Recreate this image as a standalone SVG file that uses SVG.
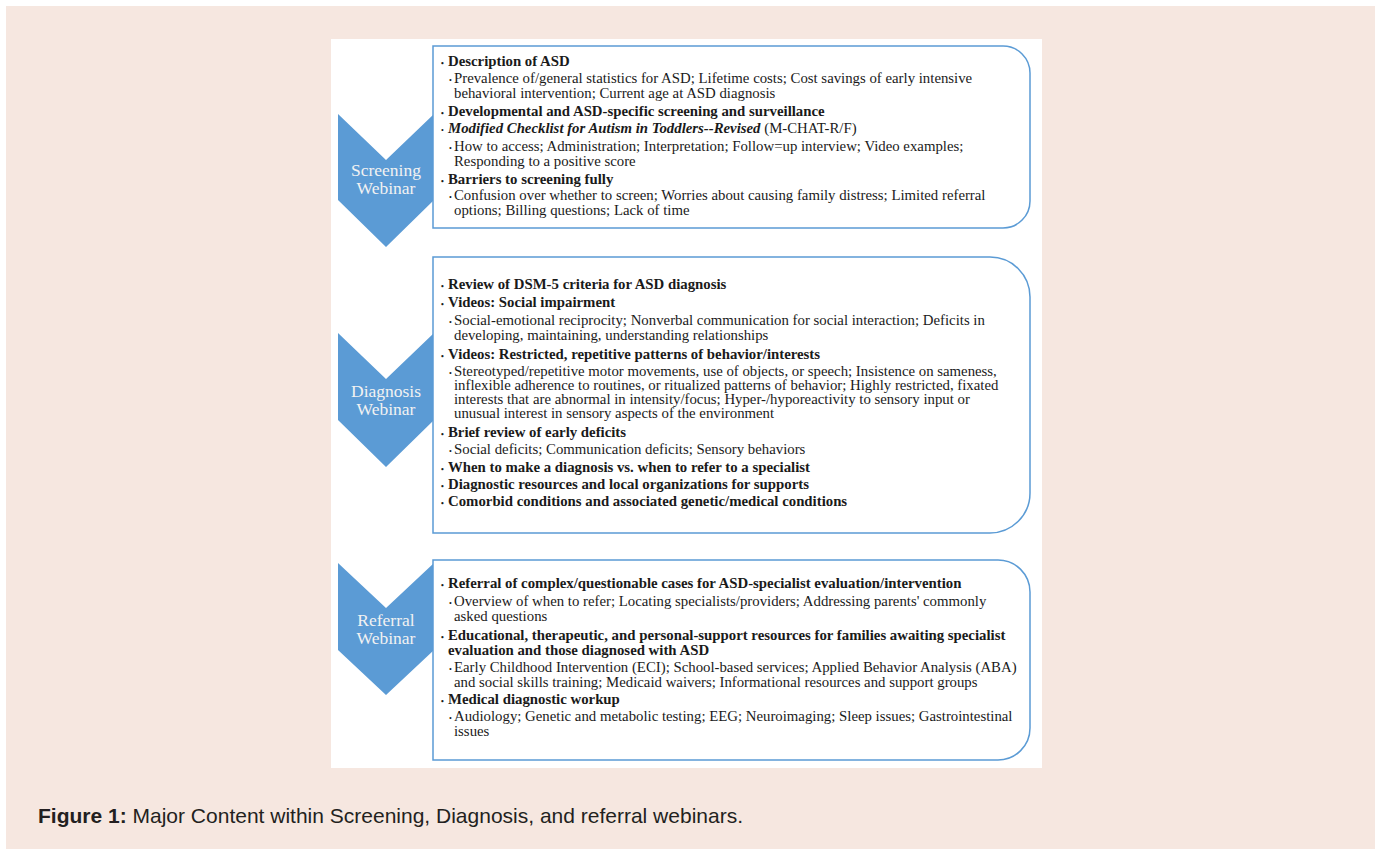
<svg xmlns="http://www.w3.org/2000/svg" width="1375" height="849" viewBox="0 0 1375 849">
  <style>
    .chev { fill: #5b9bd5; }
    .chev-label { font-family: "Liberation Serif", "Times New Roman", serif; font-size: 17.5px; fill: #f2f2f2; text-anchor: middle; }
    .box { fill: #ffffff; stroke: #5b9bd5; stroke-width: 1.5; }
    .t { font-family: "Liberation Serif", "Times New Roman", serif; font-size: 14.8px; fill: #1a1a1a; }
    .h { font-weight: bold; }
    .dot { font-size: 8px; }
    .cap { font-family: "Liberation Sans", Arial, sans-serif; font-size: 21px; fill: #231f20; }
  </style>

  <!-- page background and figure panel -->
  <rect x="0" y="0" width="1375" height="849" fill="#ffffff"/>
  <rect x="6" y="6" width="1369" height="843" fill="#f6e7e0"/>
  <rect x="331" y="39" width="711" height="729" fill="#ffffff"/>

  <!-- Screening webinar -->
  <g id="screening">
    <path class="chev" d="M338,114 L386,160 L434,114 L434,200 L386,247 L338,200 Z"/>
    <text class="chev-label" x="386" y="176">Screening</text>
    <text class="chev-label" x="386" y="194">Webinar</text>
    <path class="box" d="M433,46 H1003 A27,27 0 0 1 1030,73 V201 A27,27 0 0 1 1003,228 H433 Z"/>
    <text class="t h" y="66"><tspan class="dot" x="441">•</tspan><tspan x="448">Description of ASD</tspan></text>
    <text class="t" y="83"><tspan class="dot" x="449">•</tspan><tspan x="454">Prevalence of/general statistics for ASD; Lifetime costs; Cost savings of early intensive</tspan></text>
    <text class="t" x="454" y="98">behavioral intervention; Current age at ASD diagnosis</text>
    <text class="t h" y="116"><tspan class="dot" x="441">•</tspan><tspan x="448">Developmental and ASD-specific screening and surveillance</tspan></text>
    <text class="t" y="133"><tspan class="dot" x="441">•</tspan><tspan x="448" class="h" font-style="italic">Modified Checklist for Autism in Toddlers--Revised</tspan><tspan> (M-CHAT-R/F)</tspan></text>
    <text class="t" y="151"><tspan class="dot" x="449">•</tspan><tspan x="454">How to access; Administration; Interpretation; Follow=up interview; Video examples;</tspan></text>
    <text class="t" x="454" y="166">Responding to a positive score</text>
    <text class="t h" y="184"><tspan class="dot" x="441">•</tspan><tspan x="448">Barriers to screening fully</tspan></text>
    <text class="t" y="200"><tspan class="dot" x="449">•</tspan><tspan x="454">Confusion over whether to screen; Worries about causing family distress; Limited referral</tspan></text>
    <text class="t" x="454" y="215">options; Billing questions; Lack of time</text>
  </g>

  <!-- Diagnosis webinar -->
  <g id="diagnosis">
    <path class="chev" d="M338,333 L386,379 L434,333 L434,420 L386,467 L338,420 Z"/>
    <text class="chev-label" x="386" y="397">Diagnosis</text>
    <text class="chev-label" x="386" y="415">Webinar</text>
    <path class="box" d="M433,257 H990 A40,40 0 0 1 1030,297 V493 A40,40 0 0 1 990,533 H433 Z"/>
    <text class="t h" y="289"><tspan class="dot" x="441">•</tspan><tspan x="448">Review of DSM-5 criteria for ASD diagnosis</tspan></text>
    <text class="t h" y="307"><tspan class="dot" x="441">•</tspan><tspan x="448">Videos: Social impairment</tspan></text>
    <text class="t" y="325"><tspan class="dot" x="449">•</tspan><tspan x="454">Social-emotional reciprocity; Nonverbal communication for social interaction; Deficits in</tspan></text>
    <text class="t" x="454" y="340">developing, maintaining, understanding relationships</text>
    <text class="t h" y="359"><tspan class="dot" x="441">•</tspan><tspan x="448">Videos: Restricted, repetitive patterns of behavior/interests</tspan></text>
    <text class="t" y="376"><tspan class="dot" x="449">•</tspan><tspan x="454">Stereotyped/repetitive motor movements, use of objects, or speech; Insistence on sameness,</tspan></text>
    <text class="t" x="454" y="390">inflexible adherence to routines, or ritualized patterns of behavior; Highly restricted, fixated</text>
    <text class="t" x="454" y="404">interests that are abnormal in intensity/focus; Hyper-/hyporeactivity to sensory input or</text>
    <text class="t" x="454" y="418">unusual interest in sensory aspects of the environment</text>
    <text class="t h" y="437"><tspan class="dot" x="441">•</tspan><tspan x="448">Brief review of early deficits</tspan></text>
    <text class="t" y="454"><tspan class="dot" x="449">•</tspan><tspan x="454">Social deficits; Communication deficits; Sensory behaviors</tspan></text>
    <text class="t h" y="472"><tspan class="dot" x="441">•</tspan><tspan x="448">When to make a diagnosis vs. when to refer to a specialist</tspan></text>
    <text class="t h" y="489"><tspan class="dot" x="441">•</tspan><tspan x="448">Diagnostic resources and local organizations for supports</tspan></text>
    <text class="t h" y="506"><tspan class="dot" x="441">•</tspan><tspan x="448">Comorbid conditions and associated genetic/medical conditions</tspan></text>
  </g>

  <!-- Referral webinar -->
  <g id="referral">
    <path class="chev" d="M338,563 L386,608 L434,563 L434,650 L386,695 L338,650 Z"/>
    <text class="chev-label" x="386" y="626">Referral</text>
    <text class="chev-label" x="386" y="644">Webinar</text>
    <path class="box" d="M433,560 H998 A32,32 0 0 1 1030,592 V728 A32,32 0 0 1 998,760 H433 Z"/>
    <text class="t h" y="588"><tspan class="dot" x="441">•</tspan><tspan x="448">Referral of complex/questionable cases for ASD-specialist evaluation/intervention</tspan></text>
    <text class="t" y="606"><tspan class="dot" x="449">•</tspan><tspan x="454">Overview of when to refer; Locating specialists/providers; Addressing parents' commonly</tspan></text>
    <text class="t" x="454" y="621">asked questions</text>
    <text class="t h" y="640"><tspan class="dot" x="441">•</tspan><tspan x="448">Educational, therapeutic, and personal-support resources for families awaiting specialist</tspan></text>
    <text class="t h" x="448" y="655">evaluation and those diagnosed with ASD</text>
    <text class="t" y="672"><tspan class="dot" x="449">•</tspan><tspan x="454">Early Childhood Intervention (ECI); School-based services; Applied Behavior Analysis (ABA)</tspan></text>
    <text class="t" x="454" y="687">and social skills training; Medicaid waivers; Informational resources and support groups</text>
    <text class="t h" y="704"><tspan class="dot" x="441">•</tspan><tspan x="448">Medical diagnostic workup</tspan></text>
    <text class="t" y="721"><tspan class="dot" x="449">•</tspan><tspan x="454">Audiology; Genetic and metabolic testing; EEG; Neuroimaging; Sleep issues; Gastrointestinal</tspan></text>
    <text class="t" x="454" y="736">issues</text>
  </g>

  <!-- no connectors in this figure -->
  <g id="connectors"/>

  <text class="cap" x="38" y="823"><tspan font-weight="bold">Figure 1:</tspan> Major Content within Screening, Diagnosis, and referral webinars.</text>
</svg>
